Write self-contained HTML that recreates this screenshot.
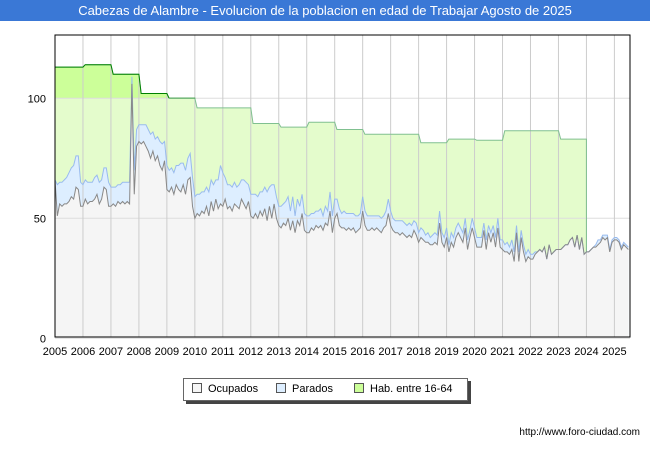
<!DOCTYPE html>
<html><head><meta charset="utf-8"><style>
body{margin:0;width:650px;height:450px;background:#fff;font-family:"Liberation Sans",sans-serif;overflow:hidden}
#title{position:absolute;left:0;top:0;width:650px;height:21px;background:#3a78d6;color:#fff;font-size:13px;line-height:21px;text-align:center}
#legend{position:absolute;left:183px;top:378px;width:283px;height:21px;border:1px solid #666;background:#fff;box-shadow:3px 3px 0 #444;font-size:11px;line-height:21px}
.li{position:absolute;top:0}
.sw{display:inline-block;width:8px;height:8px;border:1px solid #555;margin-right:6px;vertical-align:-1px}
#url{position:absolute;right:10px;top:427px;font-size:10px}
</style></head><body>
<div id="title">Cabezas de Alambre - Evolucion de la poblacion en edad de Trabajar Agosto de 2025</div>
<svg id="chart" width="650" height="450" style="position:absolute;left:0;top:0"></svg>
<div id="legend">
<span class="li" style="left:8px"><span class="sw" style="background:#f5f5f5"></span>Ocupados</span>
<span class="li" style="left:92px"><span class="sw" style="background:#ddeeff"></span>Parados</span>
<span class="li" style="left:170px"><span class="sw" style="background:#ccff99"></span>Hab. entre 16-64</span>
</div>
<div id="url">http://www.foro-ciudad.com</div>
<script>
const years=[2005,2006,2007,2008,2009,2010,2011,2012,2013,2014,2015,2016,2017,2018,2019,2020,2021,2022,2023,2024,2025];
const yTicks=[0,50,100];
const habitantes=[113,114,110,102,100,96,96,89.5,88,90,87,85,85,81.5,83,82.5,86.5,86.5,83];
const ocupados=[
66,51,56,55,56,56,57,59,58,63,62,55,
55,58,56,57,57,58,60,56,58,63,62,55,
55,56,55,57,56,57,56,57,56,106,60,80,
82,81,82,80,78,75,78,74,76,72,70,74,
62,61,63,60,64,62,61,64,60,66,67,55,
50,52,51,53,52,55,51,57,53,58,54,56,
55,58,54,55,53,56,55,54,58,56,54,57,
51,50,52,50,53,51,54,49,55,50,56,50,
47,46,48,47,50,45,49,44,49,47,52,45,
44,44,46,45,47,46,47,45,48,47,53,44,
50,52,47,46,46,45,46,45,46,44,45,46,
53,47,45,45,46,45,46,45,44,46,47,52,
47,45,44,44,43,44,43,42,43,42,45,43,
40,42,41,40,40,39,39,40,39,48,40,38,
42,36,40,38,42,44,42,40,46,37,42,46,
42,38,38,38,45,37,44,40,44,38,46,38,
37,36,36,35,37,32,44,32,42,36,32,34,
33,33,35,36,37,36,38,33,39,35,36,37,
37,37,38,39,39,41,42,38,43,37,42,35,
36,36,37,38,38,39,40,42,41,42,36,40,
41,41,40,37,39,38,37];
const parados=[
0,13,9,10,10,11,12,12,14,13,14,10,
9,8,9,8,8,9,8,9,8,8,9,10,
8,7,8,7,8,8,9,8,9,3,10,7,
7,8,7,9,9,10,8,9,8,10,11,8,
10,9,8,9,8,10,12,9,10,9,10,12,
9,8,9,8,9,8,10,9,11,8,12,16,
14,9,10,9,10,9,8,10,8,10,11,7,
9,10,8,9,8,10,9,12,8,14,8,9,
8,9,8,10,9,8,10,7,9,8,8,7,
7,7,6,7,6,7,7,6,7,6,8,7,
8,6,7,6,7,7,6,7,6,7,6,6,
6,6,6,6,5,6,5,6,6,5,6,6,
6,5,5,5,6,5,5,5,5,5,4,5,
4,4,4,3,4,3,4,4,4,5,4,4,
4,3,4,4,4,4,4,4,4,4,3,4,
4,4,4,4,3,4,3,4,3,4,4,3,
4,3,4,3,4,4,3,4,3,3,3,3,
2,2,1,0,0,0,0,0,0,0,0,0,
0,0,0,0,0,0,0,0,0,0,0,0,
0,0,0,0,1,2,1,1,2,1,1,1,
1,1,1,1,1,1,1];
const L=55,R=630,T=35,B=337;
const X=t=>L+(t-2005)*27.97;
const Y=v=>338.3-v*2.4;
const svg=document.getElementById('chart');
const NS='http://www.w3.org/2000/svg';
function mk(tag,a){const e=document.createElementNS(NS,tag);for(const k in a)e.setAttribute(k,a[k]);svg.appendChild(e);return e;}
const defs=mk('defs',{});
const cp=document.createElementNS(NS,'clipPath');cp.setAttribute('id','above');
const cr=document.createElementNS(NS,'rect');cr.setAttribute('x',L);cr.setAttribute('y',T);cr.setAttribute('width',R-L);cr.setAttribute('height',Y(100)-T);
cp.appendChild(cr);defs.appendChild(cp);
let hp=[];
habitantes.forEach((v,i)=>{const y0=years[i];hp.push([X(y0+(i?0.08:0)),Y(v)],[X(y0+1),Y(v)]);});
const habEnd=X(2024);
const habD='M'+hp.map(p=>p.join(',')).join('L');
const habFill=mk('path',{d:habD+`L${habEnd},${B}L${L},${B}Z`,fill:'#e4fccc',stroke:'none'});


const habDark=mk('path',{d:habD+`L${habEnd},${B}L${L},${B}Z`,fill:'#ccff99',stroke:'none','clip-path':'url(#above)'});


const tx=i=>X(2005+i/12);
let pTop=ocupados.map((v,i)=>[tx(i),Y(v+parados[i])]);
let oTop=ocupados.map((v,i)=>[tx(i),Y(v)]);
const last=tx(ocupados.length-1);
const pf=mk('path',{d:'M'+pTop.map(p=>p.join(',')).join('L')+`L${last},${B}L${L},${B}Z`,fill:'#ddeeff'});


const of=mk('path',{d:'M'+oTop.map(p=>p.join(',')).join('L')+`L${last},${B}L${L},${B}Z`,fill:'#f5f5f5'});


// grid on top of fills
yTicks.forEach(v=>{const l=mk('line',{x1:L,x2:R,y1:Y(v),y2:Y(v),stroke:'#dddddd'});


const t=mk('text',{x:46,y:Y(v)+4,'text-anchor':'end','font-size':11,fill:'#000'});t.textContent=v;

});
years.forEach(y=>{const l=mk('line',{x1:X(y),x2:X(y),y1:T,y2:B,stroke:'#cccccc'});


const t=mk('text',{x:X(y),y:355,'text-anchor':'middle','font-size':11,fill:'#000'});t.textContent=y;

});
const hl=mk('path',{d:habD+`L${habEnd},${Y(ocupados[228])}`,fill:'none',stroke:'#80c090','stroke-width':1});


const hl2=mk('path',{d:habD,fill:'none',stroke:'#008000','stroke-width':1,'clip-path':'url(#above)'});


const pl=mk('path',{d:'M'+pTop.map(p=>p.join(',')).join('L'),fill:'none',stroke:'#99bbee','stroke-width':1});


const ol=mk('path',{d:'M'+oTop.map(p=>p.join(',')).join('L'),fill:'none',stroke:'#888888','stroke-width':1});


const fr=mk('rect',{x:L,y:T,width:R-L,height:B-T,fill:'none',stroke:'#000'});


</script>
</body></html>
